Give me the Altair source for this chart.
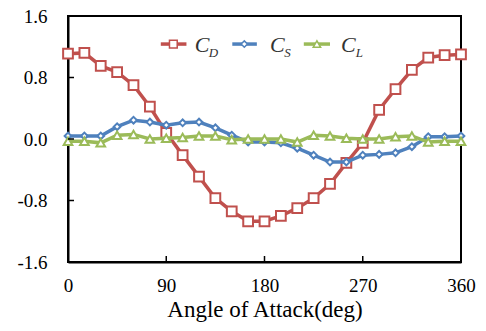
import altair as alt
import pandas as pd

# Aerodynamic coefficients versus angle of attack
angles = [0, 15, 30, 45, 60, 75, 90, 105, 120, 135, 150, 165, 180,
          195, 210, 225, 240, 255, 270, 285, 300, 315, 330, 345, 360]
cd = [1.11, 1.12, 0.95, 0.87, 0.70, 0.42, 0.08, -0.21, -0.49, -0.77, -0.94, -1.07, -1.07,
      -1.00, -0.90, -0.77, -0.585, -0.31, -0.05, 0.38, 0.65, 0.90, 1.06, 1.09, 1.10]
cs = [0.04, 0.04, 0.04, 0.16, 0.245, 0.22, 0.18, 0.21, 0.22, 0.145, 0.05, -0.04, -0.04,
      -0.05, -0.12, -0.21, -0.30, -0.30, -0.21, -0.20, -0.18, -0.10, 0.03, 0.03, 0.04]
cl = [-0.03, -0.03, -0.05, 0.05, 0.06, 0.00, 0.01, 0.02, 0.04, 0.04, -0.01, 0.00, 0.00,
      0.00, -0.04, 0.05, 0.04, 0.01, 0.00, 0.00, 0.03, 0.04, -0.04, -0.03, -0.03]

series_subs = ["D", "S", "L"]
colors = ["#C0504D", "#4F81BD", "#9BBB59"]
shapes = ["square", "diamond", "triangle-up"]
marker_sizes = [95, 45, 75]
legend_marker_sizes = [60, 40, 55]

x_ticks = [0, 90, 180, 270, 360]
y_ticks = [-1.6, -0.8, 0.0, 0.8, 1.6]

# legend placement in data units
leg_line_start = [85.0, 150.5, 216.0]
leg_line_end = [108.5, 173.0, 240.0]
leg_marker_x = [96.5, 161.5, 228.0]
leg_c_x = [116.0, 185.0, 250.0]
leg_sub_x = [129.0, 198.0, 263.5]
leg_y = 1.235
leg_c_y = 1.222
leg_sub_y = 1.125

W, H = 393, 246
FONT = "Liberation Serif"

xs = alt.Scale(domain=[0, 360], nice=False, zero=False)
ys = alt.Scale(domain=[-1.6, 1.6], nice=False, zero=False)

xaxis = alt.Axis(values=x_ticks, ticks=False, grid=False, labelFlush=False,
                 domainColor="black", domainWidth=2,
                 labelFont=FONT, labelFontSize=19, labelColor="black", labelPadding=14,
                 title="Angle of Attack(deg)", titleFont=FONT, titleFontSize=23,
                 titleFontWeight="normal", titleColor="black", titlePadding=3)
yaxis = alt.Axis(values=y_ticks, ticks=False, grid=False, labelFlush=False,
                 domainColor="black", domainWidth=2,
                 labelExpr="datum.value < 0 ? '-' + format(-datum.value, '.1f') : format(datum.value, '.1f')",
                 labelFont=FONT, labelFontSize=19, labelColor="black", labelPadding=21,
                 title=None)

layers = []
for vals, col, shp, sz in zip([cd, cs, cl], colors, shapes, marker_sizes):
    df = pd.DataFrame({"angle": angles, "value": vals})
    base = alt.Chart(df).encode(
        x=alt.X("angle:Q", scale=xs, axis=xaxis),
        y=alt.Y("value:Q", scale=ys, axis=yaxis),
    )
    layers.append(base.mark_line(color=col, strokeWidth=3.5))
    layers.append(base.mark_point(shape=shp, size=sz, filled=True, fill="white",
                                  stroke=col, strokeWidth=2, opacity=1))

# inward tick marks
ytick_df = pd.DataFrame({"v": [-0.8, 0.0, 0.8]})
layers.append(alt.Chart(ytick_df).mark_rule(color="black", strokeWidth=1.5).encode(
    y=alt.Y("v:Q", scale=ys, axis=yaxis), x=alt.value(0), x2=alt.value(6)))
xtick_df = pd.DataFrame({"a": [90, 180, 270]})
layers.append(alt.Chart(xtick_df).mark_rule(color="black", strokeWidth=1.5).encode(
    x=alt.X("a:Q", scale=xs, axis=xaxis), y=alt.value(H), y2=alt.value(H - 6)))

# legend
for i in range(3):
    ldf = pd.DataFrame({"x1": [leg_line_start[i]], "x2": [leg_line_end[i]],
                        "xm": [leg_marker_x[i]], "y": [leg_y],
                        "xc": [leg_c_x[i]], "yc": [leg_c_y],
                        "xs": [leg_sub_x[i]], "ys": [leg_sub_y],
                        "c": ["C"], "s": [series_subs[i]]})
    lb = alt.Chart(ldf)
    layers.append(lb.mark_rule(color=colors[i], strokeWidth=3.5).encode(
        x=alt.X("x1:Q", scale=xs, axis=xaxis), x2="x2:Q",
        y=alt.Y("y:Q", scale=ys, axis=yaxis)))
    layers.append(lb.mark_point(shape=shapes[i], size=legend_marker_sizes[i], filled=True,
                                fill="white", stroke=colors[i], strokeWidth=1.5, opacity=1).encode(
        x=alt.X("xm:Q", scale=xs, axis=xaxis), y=alt.Y("y:Q", scale=ys, axis=yaxis)))
    layers.append(lb.mark_text(align="left", baseline="middle", font=FONT, fontStyle="italic",
                               fontSize=22, color="#333333").encode(
        x=alt.X("xc:Q", scale=xs, axis=xaxis), y=alt.Y("yc:Q", scale=ys, axis=yaxis), text="c:N"))
    layers.append(lb.mark_text(align="left", baseline="middle", font=FONT, fontStyle="italic",
                               fontSize=13, color="#333333").encode(
        x=alt.X("xs:Q", scale=xs, axis=xaxis), y=alt.Y("ys:Q", scale=ys, axis=yaxis), text="s:N"))

chart = alt.layer(*layers).properties(
    width=W, height=H,
    autosize=alt.AutoSizeParams(type="none"),
    padding={"left": 68, "top": 16, "right": 25, "bottom": 69},
    background="white",
).configure_view(stroke="black", strokeWidth=2)

chart.save("out.html", embed_options={"renderer": "svg", "actions": False})
